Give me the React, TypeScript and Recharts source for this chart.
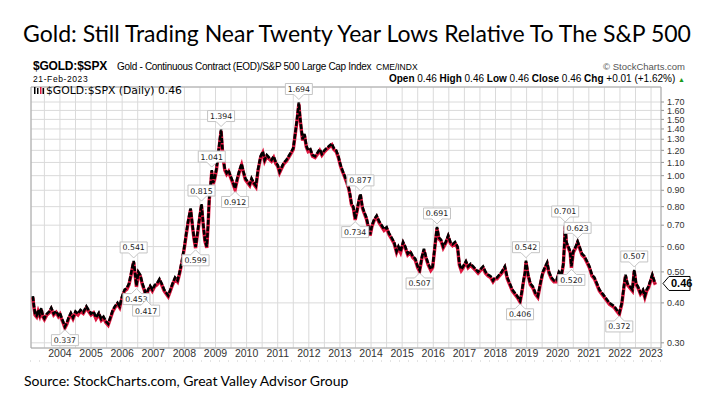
import {
  CartesianGrid,
  ComposedChart,
  Line,
  ReferenceArea,
  ReferenceDot,
  XAxis,
  YAxis,
} from 'recharts';

const titleText = 'Gold: Still Trading Near Twenty Year Lows Relative To The S&P 500';
const sourceText = 'Source: StockCharts.com, Great Valley Advisor Group';

const yearLabels = [
  2004, 2005, 2006, 2007, 2008, 2009, 2010, 2011, 2012, 2013,
  2014, 2015, 2016, 2017, 2018, 2019, 2020, 2021, 2022, 2023,
];

const priceTicks = [0.3, 0.4, 0.5, 0.6, 0.7, 0.8, 0.9, 1.0, 1.1, 1.2, 1.3, 1.4, 1.5, 1.6, 1.7];

// (decimal year, $GOLD:$SPX close)
const closeSeries: [number, number][] = [
  [2003.13, 0.42], [2003.16, 0.395], [2003.2, 0.37], [2003.25, 0.365], [2003.3, 0.38], [2003.35, 0.368],
  [2003.4, 0.385], [2003.45, 0.365], [2003.5, 0.358], [2003.58, 0.37], [2003.66, 0.376], [2003.72, 0.386],
  [2003.8, 0.37], [2003.88, 0.377], [2003.95, 0.366],
  [2004.0, 0.372], [2004.05, 0.36], [2004.1, 0.35], [2004.16, 0.337], [2004.22, 0.346], [2004.28, 0.36],
  [2004.35, 0.372], [2004.42, 0.36], [2004.5, 0.376], [2004.58, 0.37], [2004.66, 0.38], [2004.75, 0.374],
  [2004.85, 0.39], [2004.92, 0.38],
  [2005.0, 0.37], [2005.08, 0.376], [2005.16, 0.36], [2005.25, 0.372], [2005.33, 0.356], [2005.4, 0.362],
  [2005.48, 0.35], [2005.55, 0.344], [2005.62, 0.36], [2005.7, 0.38], [2005.78, 0.392], [2005.85, 0.4],
  [2005.92, 0.39],
  [2006.0, 0.42], [2006.08, 0.44], [2006.15, 0.445], [2006.22, 0.46], [2006.28, 0.49], [2006.33, 0.52],
  [2006.37, 0.541], [2006.41, 0.5], [2006.46, 0.453], [2006.52, 0.5], [2006.58, 0.49], [2006.65, 0.46],
  [2006.72, 0.44], [2006.77, 0.417], [2006.83, 0.44], [2006.9, 0.452], [2006.97, 0.44],
  [2007.05, 0.455], [2007.12, 0.46], [2007.2, 0.475], [2007.27, 0.46], [2007.35, 0.44], [2007.42, 0.43],
  [2007.48, 0.422], [2007.55, 0.44], [2007.62, 0.46], [2007.7, 0.48], [2007.78, 0.47], [2007.85, 0.5],
  [2007.92, 0.54],
  [2008.0, 0.6], [2008.06, 0.66], [2008.12, 0.72], [2008.2, 0.79], [2008.26, 0.7], [2008.31, 0.64],
  [2008.36, 0.599], [2008.42, 0.66], [2008.48, 0.73], [2008.55, 0.815], [2008.61, 0.7], [2008.66, 0.63],
  [2008.72, 0.6], [2008.76, 0.7], [2008.8, 0.85], [2008.85, 0.95], [2008.88, 1.041], [2008.92, 0.95],
  [2008.97, 0.98],
  [2009.03, 1.05], [2009.1, 1.2], [2009.18, 1.394], [2009.24, 1.15], [2009.3, 1.05], [2009.36, 1.02],
  [2009.42, 1.04], [2009.48, 1.0], [2009.55, 0.96], [2009.63, 0.912], [2009.7, 0.98], [2009.77, 1.04],
  [2009.84, 1.09], [2009.9, 1.03], [2009.96, 0.98],
  [2010.03, 0.96], [2010.1, 0.94], [2010.16, 0.98], [2010.23, 0.95], [2010.3, 0.93], [2010.37, 1.05],
  [2010.45, 1.15], [2010.52, 1.19], [2010.58, 1.12], [2010.65, 1.16], [2010.72, 1.14], [2010.8, 1.12],
  [2010.87, 1.15], [2010.94, 1.1],
  [2011.0, 1.08], [2011.06, 1.03], [2011.12, 1.06], [2011.2, 1.1], [2011.28, 1.12], [2011.35, 1.15],
  [2011.42, 1.18], [2011.5, 1.22], [2011.56, 1.35], [2011.62, 1.5], [2011.68, 1.694], [2011.72, 1.52],
  [2011.76, 1.4], [2011.8, 1.3], [2011.86, 1.35], [2011.92, 1.24], [2011.98, 1.2],
  [2012.05, 1.21], [2012.12, 1.16], [2012.2, 1.15], [2012.28, 1.18], [2012.35, 1.21], [2012.42, 1.17],
  [2012.5, 1.2], [2012.58, 1.22], [2012.66, 1.24], [2012.74, 1.26], [2012.8, 1.22], [2012.88, 1.2],
  [2012.95, 1.15],
  [2013.02, 1.08], [2013.08, 1.04], [2013.15, 1.0], [2013.22, 0.96], [2013.28, 0.92], [2013.32, 0.88],
  [2013.37, 0.82], [2013.43, 0.8], [2013.49, 0.734], [2013.55, 0.78], [2013.61, 0.84], [2013.66, 0.877],
  [2013.72, 0.8], [2013.78, 0.77], [2013.85, 0.74], [2013.92, 0.69], [2013.97, 0.655],
  [2014.03, 0.7], [2014.1, 0.73], [2014.18, 0.75], [2014.26, 0.72], [2014.34, 0.7], [2014.42, 0.68],
  [2014.5, 0.69], [2014.58, 0.66], [2014.66, 0.64], [2014.74, 0.62], [2014.82, 0.58], [2014.88, 0.6],
  [2014.95, 0.58],
  [2015.03, 0.62], [2015.1, 0.6], [2015.18, 0.57], [2015.26, 0.58], [2015.34, 0.56], [2015.42, 0.55],
  [2015.5, 0.52], [2015.56, 0.507], [2015.64, 0.56], [2015.7, 0.59], [2015.76, 0.56], [2015.84, 0.53],
  [2015.92, 0.51], [2015.98, 0.52],
  [2016.05, 0.6], [2016.12, 0.691], [2016.18, 0.64], [2016.25, 0.63], [2016.32, 0.6], [2016.4, 0.62],
  [2016.48, 0.65], [2016.55, 0.62], [2016.62, 0.61], [2016.7, 0.62], [2016.78, 0.6], [2016.84, 0.53],
  [2016.9, 0.51], [2016.96, 0.52],
  [2017.05, 0.54], [2017.12, 0.52], [2017.2, 0.53], [2017.28, 0.52], [2017.36, 0.51], [2017.44, 0.5],
  [2017.52, 0.51], [2017.6, 0.52], [2017.68, 0.5], [2017.76, 0.49], [2017.84, 0.485], [2017.92, 0.47],
  [2017.98, 0.48],
  [2018.05, 0.48], [2018.12, 0.49], [2018.2, 0.5], [2018.3, 0.52], [2018.38, 0.48], [2018.46, 0.46],
  [2018.54, 0.44], [2018.62, 0.43], [2018.7, 0.42], [2018.79, 0.406], [2018.84, 0.43], [2018.9, 0.47],
  [2018.95, 0.5], [2018.98, 0.542],
  [2019.05, 0.49], [2019.12, 0.46], [2019.2, 0.45], [2019.28, 0.43], [2019.36, 0.42], [2019.44, 0.46],
  [2019.52, 0.5], [2019.6, 0.52], [2019.66, 0.535], [2019.72, 0.5], [2019.8, 0.48], [2019.88, 0.47],
  [2019.96, 0.47],
  [2020.04, 0.5], [2020.12, 0.49], [2020.18, 0.53], [2020.22, 0.62], [2020.24, 0.701], [2020.28, 0.62],
  [2020.34, 0.6], [2020.4, 0.58], [2020.44, 0.52], [2020.5, 0.58], [2020.58, 0.6], [2020.64, 0.623],
  [2020.7, 0.6], [2020.78, 0.57], [2020.86, 0.56], [2020.94, 0.54],
  [2021.02, 0.52], [2021.1, 0.49], [2021.18, 0.48], [2021.26, 0.46], [2021.34, 0.44], [2021.42, 0.43],
  [2021.5, 0.42], [2021.58, 0.41], [2021.66, 0.4], [2021.74, 0.395], [2021.82, 0.39], [2021.9, 0.38],
  [2021.98, 0.372],
  [2022.06, 0.4], [2022.14, 0.46], [2022.18, 0.49], [2022.24, 0.46], [2022.32, 0.45], [2022.4, 0.44],
  [2022.46, 0.507], [2022.52, 0.46], [2022.58, 0.45], [2022.66, 0.43], [2022.74, 0.44], [2022.8, 0.42],
  [2022.86, 0.44], [2022.92, 0.45], [2022.98, 0.47],
  [2023.04, 0.49], [2023.1, 0.47], [2023.14, 0.46],
];

// peak / trough callouts: date, value, placement
const calloutDates = [
  2004.16, 2006.37, 2006.46, 2006.77, 2008.36, 2008.55, 2008.88, 2009.18, 2009.63, 2011.68, 2013.49,
  2013.66, 2015.56, 2016.12, 2018.79, 2018.98, 2020.24, 2020.44, 2020.64, 2021.98, 2022.46,
];
const calloutValues = [
  0.337, 0.541, 0.453, 0.417, 0.599, 0.815, 1.041, 1.394, 0.912, 1.694, 0.734,
  0.877, 0.507, 0.691, 0.406, 0.542, 0.701, 0.52, 0.623, 0.372, 0.507,
];
const calloutSides = [
  'below', 'above', 'below', 'below', 'below', 'above', 'above', 'above', 'below', 'above', 'below',
  'above', 'below', 'above', 'below', 'above', 'above', 'below', 'above', 'below', 'above',
];

const X_MIN = 2003.07;
const X_MAX = 2023.32;
const Y_MIN = 0.289;
const Y_MAX = 1.894;

const rows = closeSeries.map(([t, close]) => ({ t, close }));
const lastClose = closeSeries[closeSeries.length - 1][1];
const gridDates = yearLabels.flatMap((y) => [y - 0.5, y]);

const SANS = '"Liberation Sans", Arial, sans-serif';
const VERDANA = '"DejaVu Sans", Verdana, sans-serif';

function Callout({ cx, cy, text, side }: { cx: number; cy: number; text: string; side: string }) {
  const w = 27;
  const xl = cx - w / 2;
  const xr = cx + w / 2;
  if (side === 'above') {
    const yb = cy - 8;
    const yt = cy - 19;
    return (
      <g>
        <path
          d={`M${xl},${yt} H${xr} V${yb} H${cx + 5} L${cx},${cy - 3} L${cx - 5},${yb} H${xl} Z`}
          fill="#fff"
          stroke="#c4c4c4"
        />
        <text x={cx} y={yt + 8.5} textAnchor="middle" fontFamily={VERDANA} fontSize={7.8} fill="#222">
          {text}
        </text>
      </g>
    );
  }
  const yt = cy + 8;
  const yb = cy + 19;
  return (
    <g>
      <path
        d={`M${xl},${yt} H${cx - 5} L${cx},${cy + 3} L${cx + 5},${yt} H${xr} V${yb} H${xl} Z`}
        fill="#fff"
        stroke="#c4c4c4"
      />
      <text x={cx} y={yt + 8.5} textAnchor="middle" fontFamily={VERDANA} fontSize={7.8} fill="#222">
        {text}
      </text>
    </g>
  );
}

function LastValueTag({ cx, cy }: { cx: number; cy: number }) {
  return (
    <g>
      <path
        d={`M${cx + 2},${cy} L${cx + 8},${cy - 7} H${cx + 29} V${cy + 7} H${cx + 8} Z`}
        fill="#fff"
        stroke="#000"
      />
      <text x={cx + 10} y={cy + 4} fontFamily={SANS} fontWeight="bold" fontSize={11} fill="#000">
        {lastClose.toFixed(2)}
      </text>
    </g>
  );
}

const abs = (left: number, top: number, extra: React.CSSProperties = {}): React.CSSProperties => ({
  position: 'absolute',
  left,
  top,
  whiteSpace: 'nowrap',
  ...extra,
});

export default function App() {
  return (
    <div style={{ position: 'absolute', left: 0, top: 0, width: 714, height: 396, background: '#fff' }}>
      <div
        style={abs(0, 20, {
          width: 714,
          textAlign: 'center',
          fontFamily: 'Lato, "Open Sans", sans-serif',
          fontSize: 23,
          lineHeight: '26px',
          color: '#000',
        })}
      >
        {titleText}
      </div>

      <div style={abs(33, 59, { fontFamily: SANS, fontSize: 12, fontWeight: 'bold', lineHeight: '15px', letterSpacing: -0.2 })}>
        $GOLD:$SPX
      </div>
      <div style={abs(117, 61, { fontFamily: SANS, fontSize: 10, lineHeight: '12px', letterSpacing: -0.3 })}>
        Gold - Continuous Contract (EOD)/S&amp;P 500 Large Cap Index
      </div>
      <div style={abs(376, 62, { fontFamily: SANS, fontSize: 8.5, lineHeight: '11px' })}>CME/INDX</div>
      <div style={abs(0, 61, { width: 685, textAlign: 'right', fontFamily: SANS, fontSize: 9.5, lineHeight: '12px', color: '#555' })}>
        © StockCharts.com
      </div>
      <div style={abs(33, 74, { fontFamily: SANS, fontSize: 8.5, lineHeight: '11px', letterSpacing: 0.6 })}>
        21-Feb-2023
      </div>
      <div style={abs(0, 73, { width: 685, textAlign: 'right', fontFamily: SANS, fontSize: 10, lineHeight: '12px' })}>
        <b>Open</b> 0.46 <b>High</b> 0.46 <b>Low</b> 0.46 <b>Close</b> 0.46 <b>Chg</b> +0.01 (+1.62%){' '}
        <span style={{ color: '#1a9a1a', fontSize: 7 }}>▲</span>
      </div>

      <ComposedChart
        width={714}
        height={396}
        data={rows}
        margin={{ top: 87, right: 3, bottom: 28, left: 31 }}
      >
        <CartesianGrid stroke="#dadada" strokeWidth={1} />
        <XAxis
          dataKey="t"
          type="number"
          domain={[X_MIN, X_MAX]}
          allowDataOverflow
          ticks={gridDates}
          interval={0}
          tickFormatter={(v: number) => (Number.isInteger(v) ? String(v) : '')}
          tickLine={false}
          tickSize={0}
          tickMargin={2}
          axisLine={false}
          height={20}
          tick={{ fill: '#333', fontSize: 10.5, fontFamily: SANS }}
        />
        <YAxis
          orientation="right"
          type="number"
          scale="log"
          domain={[Y_MIN, Y_MAX]}
          allowDataOverflow
          ticks={priceTicks}
          interval={0}
          tickFormatter={(v: number) => v.toFixed(2)}
          tickSize={3}
          tickMargin={3}
          tickLine={{ stroke: '#999' }}
          axisLine={false}
          width={50}
          tick={{ fill: '#333', fontSize: 9, fontFamily: SANS, textAnchor: 'start' }}
        />
        <ReferenceArea
          x1={X_MIN}
          x2={X_MAX}
          y1={Y_MIN}
          y2={Y_MAX}
          fill="none"
          stroke="#a8a8a8"
          ifOverflow="visible"
        />
        <Line
          dataKey="close"
          type="linear"
          stroke="#e0163f"
          strokeWidth={3.4}
          dot={false}
          isAnimationActive={false}
          style={{ transform: 'translate(0px, 1.3px)' }}
        />
        <Line
          dataKey="close"
          type="linear"
          stroke="#000"
          strokeWidth={2.6}
          strokeDasharray="5 1.5"
          dot={false}
          isAnimationActive={false}
        />
        {calloutDates.map((t, i) => (
          <ReferenceDot
            key={`c${i}`}
            x={t}
            y={calloutValues[i]}
            r={0}
            ifOverflow="visible"
            shape={(p: any) => (
              <Callout cx={p.cx} cy={p.cy} text={calloutValues[i].toFixed(3)} side={calloutSides[i]} />
            )}
          />
        ))}
        <ReferenceDot
          x={X_MAX}
          y={lastClose}
          r={0}
          ifOverflow="visible"
          shape={(p: any) => <LastValueTag cx={p.cx} cy={p.cy} />}
        />
      </ComposedChart>

      <svg style={abs(33, 86)} width={12} height={10}>
        <rect x={1} y={1} width={1.5} height={7} fill="#000" />
        <rect x={4} y={2} width={1.5} height={6} fill="#000" />
        <rect x={7} y={1} width={1.5} height={7} fill="#e0163f" />
        <rect x={9.5} y={2} width={1.5} height={6} fill="#000" />
      </svg>
      <div style={abs(46, 84, { fontFamily: VERDANA, fontSize: 10.8, lineHeight: '13px', color: '#000' })}>
        $GOLD:$SPX (Daily) 0.46
      </div>

      <svg style={abs(30, 360)} width={632} height={3}>
        <line x1={0} y1={1} x2={632} y2={1} stroke="#c8c8c8" strokeDasharray="1 8" />
      </svg>

      <div style={abs(24, 372, { fontFamily: 'Lato, "Open Sans", sans-serif', fontSize: 14, lineHeight: '18px', color: '#000' })}>
        {sourceText}
      </div>
    </div>
  );
}
